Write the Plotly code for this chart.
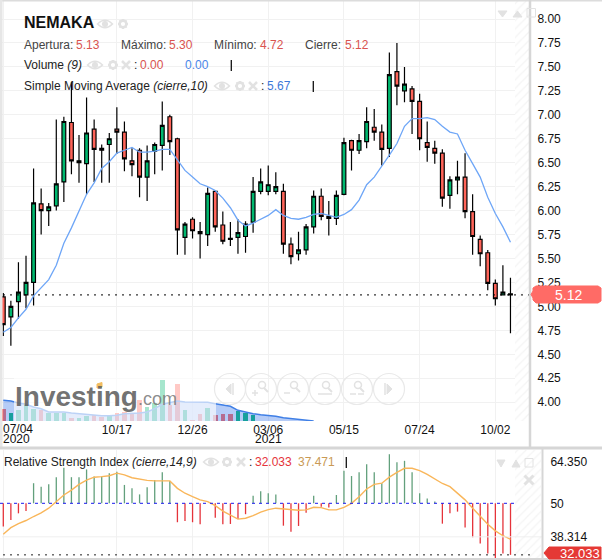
import plotly.graph_objects as go

W, H = 602, 560
# ---- data ----
tick_index = [0, 15, 25, 35, 45, 55, 65]
tick_text = ["", "10/17", "12/26", "03/06", "05/15", "07/24", "10/02"]
opens = [5.10,4.89,5.05,5.12,5.25,6.07,6.00,6.05,6.30,6.92,6.50,6.49,6.85,6.65,6.69,6.85,6.82,6.52,6.63,6.35,6.62,6.68,6.98,6.75,
         5.72,5.91,5.78,5.75,6.20,5.85,5.71,5.72,5.73,5.88,6.20,6.20,6.20,6.20,5.65,5.55,5.59,5.83,6.15,5.94,5.92,6.17,6.73,6.63,
         6.72,6.87,6.82,6.65,7.45,7.25,7.27,7.14,6.71,6.65,6.60,6.16,6.32,6.35,5.99,5.70,5.56,5.24,5.12,5.13]
highs = [5.14,5.06,5.46,5.53,6.44,6.23,6.08,6.95,6.98,7.34,6.79,7.18,6.95,6.69,6.81,7.08,6.93,6.65,6.65,6.68,6.71,7.14,7.00,6.76,
         5.88,5.93,5.88,6.24,6.21,5.99,5.88,5.91,5.89,6.35,6.44,6.47,6.40,6.28,5.72,5.78,5.86,6.21,6.23,6.10,6.21,6.76,6.74,6.80,
         7.08,7.06,6.90,7.65,7.75,7.50,7.30,7.22,6.93,6.73,6.64,6.36,6.52,6.60,6.17,5.74,5.59,5.28,5.43,5.30]
lows = [4.69,4.59,4.87,4.98,5.01,5.75,5.84,6.00,6.09,6.38,6.29,6.17,6.30,6.29,6.29,6.59,6.41,6.36,6.14,6.10,6.38,6.42,6.58,5.54,
        5.54,5.71,5.50,5.63,5.78,5.65,5.63,5.55,5.56,5.77,6.17,6.16,6.17,5.55,5.44,5.48,5.54,5.76,5.90,5.74,5.85,6.16,6.42,6.59,
        6.65,6.73,6.47,6.56,7.10,7.13,6.80,6.63,6.51,6.49,6.04,6.02,6.17,5.92,5.54,5.42,5.17,5.01,5.12,4.72]
closes = [4.81,5.00,5.15,5.25,6.08,6.00,6.04,6.28,6.93,6.52,6.52,6.81,6.64,6.63,6.75,6.82,6.54,6.48,6.35,6.52,6.69,6.89,6.72,5.80,
          5.86,5.79,5.76,6.18,5.83,5.68,5.70,5.77,5.86,6.20,6.30,6.27,6.25,5.65,5.52,5.59,5.83,6.15,5.94,5.92,6.16,6.71,6.63,6.73,
          6.93,6.82,6.64,7.42,7.30,7.32,7.14,6.75,6.66,6.60,6.13,6.32,6.35,5.99,5.73,5.55,5.24,5.08,5.15,5.12]
sma10 = [4.73,4.78,4.88,4.97,5.11,5.19,5.28,5.43,5.66,5.82,5.99,6.17,6.29,6.44,6.51,6.60,6.63,6.66,6.61,6.61,6.62,6.64,6.64,6.53,
         6.42,6.35,6.28,6.25,6.21,6.13,6.03,5.90,5.84,5.87,5.91,5.95,6.01,5.95,5.92,5.91,5.93,5.96,5.97,5.95,5.93,5.96,6.01,6.11,
         6.27,6.35,6.46,6.58,6.70,6.88,6.96,6.96,6.97,6.95,6.88,6.82,6.80,6.63,6.49,6.35,6.14,5.97,5.83,5.67]
volume = [11700,8300,10700,16300,11700,11300,8000,8000,8000,3000,3000,5000,5700,4000,4700,8000,9000,7300,21300,14000,18000,40700,
          15700,36700,10700,700,7300,13000,5700,7300,7300,10000,8000,6300]
volume_sma = [20700,20000,18000,16700,14000,12300,9000,9000,9000,8000,7300,6700,5700,5300,5300,5700,7300,7300,8000,9000,12300,16700,
              18000,20000,19000,19000,19000,18700,17300,16300,14700,10700,8700,7300,6300,5700,4700,3300,2300,1300,700,0]
rsi = [41.9,44.2,46.5,47.3,57.0,55.8,56.6,59.1,62.4,59.1,59.1,61.8,59.3,59.3,60.5,61.0,56.4,55.2,53.1,55.6,58.1,60.8,57.8,43.4,
       43.8,43.4,42.7,50.0,45.0,42.7,42.8,44.5,46.2,52.6,54.2,53.5,53.1,42.2,40.1,42.1,46.7,52.6,48.8,48.5,52.9,61.3,59.5,60.8,
       63.6,60.8,57.0,67.1,64.3,64.8,60.8,53.5,51.7,50.6,42.9,46.5,47.1,41.6,38.2,36.0,32.5,30.8,32.5,32.033]
rsi_sma = [39.2,41.5,42.9,44.0,45.4,46.7,48.3,50.6,52.9,54.6,56.6,58.1,59.1,59.3,59.6,60.5,59.9,58.9,58.4,58.0,57.8,57.8,57.8,55.2,
           53.5,52.3,51.2,50.6,49.2,47.3,45.9,44.5,44.8,45.7,46.9,47.8,48.3,48.0,47.9,47.6,47.7,48.6,48.5,47.7,47.7,48.6,50.0,52.3,
           55.0,56.6,57.0,59.1,60.8,62.2,62.2,61.4,60.1,58.5,56.9,55.8,53.5,51.2,48.3,45.4,42.7,40.4,38.7,37.471]
price_ticks = [4.00,4.25,4.50,4.75,5.00,5.25,5.50,5.75,6.00,6.25,6.50,6.75,7.00,7.25,7.50,7.75,8.00]
rsi_ticks = [64.35, 50, 38.314]
rsi_labels = ["64.350", "50", "38.314"]
last_price = 5.12
last_rsi = 32.033

idx = list(range(len(closes)))
GREEN, RED = "#00b86f", "#ff6459"
FONT = "Liberation Sans"
GREY = "#e2e2e2"

def X(p): return p / W
def Y(p): return 1 - p / H

fig = go.Figure()

# hatch band (main + RSI)
for xa, ya, base, top, cx, wd in [("x", "y", 3.804, 8.188, 68.6, 2.0), ("x2", "y2", 30.94, 68.57, 69.3, 3.4)]:
    fig.add_trace(go.Bar(x=[cx], y=[top-base], base=[base], width=[wd], xaxis=xa, yaxis=ya, showlegend=False,
                         marker=dict(color="white", line_width=0,
                                     pattern=dict(shape="/", fgcolor="#e9e9e9", bgcolor="white", size=6, solidity=0.2))))

fig.add_trace(go.Candlestick(x=idx, open=opens, high=highs, low=lows, close=closes, xaxis="x", yaxis="y",
                             increasing=dict(fillcolor=GREEN, line=dict(color="black", width=1.2)),
                             decreasing=dict(fillcolor=RED, line=dict(color="black", width=1.2)),
                             whiskerwidth=0, showlegend=False))
fig.add_trace(go.Scatter(x=idx, y=sma10, mode="lines", line=dict(color="#6ea6f7", width=1.3), showlegend=False))

# volume overlay
fig.add_trace(go.Bar(x=idx[:len(volume)], y=volume, width=0.6, xaxis="x", yaxis="y3", showlegend=False,
                     marker=dict(color=[GREEN if closes[i] >= opens[i] else RED for i in range(len(volume))], line_width=0)))
fig.add_trace(go.Scatter(x=idx[:len(volume_sma)], y=volume_sma, xaxis="x", yaxis="y3", mode="lines", fill="tozeroy",
                         fillcolor="rgba(60,120,235,0.38)", line=dict(color="#3f7fe6", width=1.5), showlegend=False))

# RSI panel: thin stems from the 50 level
def stems(select):
    xs, ys = [], []
    for i, v in zip(idx, rsi):
        if select(v):
            xs += [i, i, None]
            ys += [50, v, None]
    return xs, ys
for sel, col in [(lambda v: v >= 50, "#62a07c"), (lambda v: v < 50, "#e5333a")]:
    sx, sy = stems(sel)
    fig.add_trace(go.Scatter(x=sx, y=sy, xaxis="x2", yaxis="y2", mode="lines", line=dict(color=col, width=1.3), showlegend=False))
fig.add_trace(go.Scatter(x=idx, y=rsi_sma, xaxis="x2", yaxis="y2", mode="lines",
                         line=dict(color="#f9b65a", width=1.4), showlegend=False))

shapes, ann = [], []

def line(x0, y0, x1, y1, c=GREY, w=1, dash=None):
    shapes.append(dict(type="line", xref="paper", yref="paper", x0=X(x0), y0=Y(y0), x1=X(x1), y1=Y(y1),
                       line=dict(color=c, width=w, dash=dash) if dash else dict(color=c, width=w)))
def circle(cx, cy, r, c=GREY, w=1, fill=None):
    shapes.append(dict(type="circle", xref="paper", yref="paper", x0=X(cx-r), x1=X(cx+r), y0=Y(cy-r), y1=Y(cy+r),
                       line=dict(color=c, width=w), fillcolor=fill or "rgba(0,0,0,0)"))
def poly(pts, fill=GREY, c=None):
    d = "M" + " L".join(f"{X(a):.5f},{Y(b):.5f}" for a, b in pts) + " Z"
    shapes.append(dict(type="path", xref="paper", yref="paper", path=d, fillcolor=fill, line=dict(color=c or fill, width=1)))
def text(x, y, t, size=12, color="#333", anchor="left", **kw):
    xx = x - 2 if anchor == "left" else x
    ann.append(dict(xref="paper", yref="paper", x=X(xx), y=Y(y), text=t, showarrow=False, xanchor=anchor, yanchor="middle",
                    font=dict(family=kw.pop("family", FONT), size=size, color=color), align=kw.pop("align", "left"), **kw))
def eye(cx, cy):
    shapes.append(dict(type="path", xref="paper", yref="paper", line=dict(color=GREY, width=1.5), fillcolor="rgba(0,0,0,0)",
                       path=f"M{X(cx-7.5)},{Y(cy)} Q{X(cx)},{Y(cy-7.5)} {X(cx+7.5)},{Y(cy)} Q{X(cx)},{Y(cy+7.5)} {X(cx-7.5)},{Y(cy)} Z"))
    circle(cx, cy, 2.6, GREY, 1, GREY)
def gear(cx, cy):
    circle(cx, cy, 3.4, GREY, 2.6, "white")
    for a, b, c, d in [(-5, 0, 5, 0), (0, -5, 0, 5), (-3.6, -3.6, 3.6, 3.6), (-3.6, 3.6, 3.6, -3.6)]:
        line(cx+a, cy+b, cx+a*0.75, cy+b*0.75, GREY, 2)
        line(cx+c, cy+d, cx+c*0.75, cy+d*0.75, GREY, 2)
def cross(cx, cy, r=4, w=2.5):
    line(cx-r, cy-r, cx+r, cy+r, GREY, w)
    line(cx-r, cy+r, cx+r, cy-r, GREY, w)

# veil behind the watermark
shapes.append(dict(type="rect", xref="paper", yref="paper", x0=X(14), x1=X(216), y0=Y(370), y1=Y(421),
                   fillcolor="rgba(255,255,255,0.65)", line_width=0))

# current value lines
shapes.append(dict(type="line", xref="paper", x0=X(3), x1=X(530), yref="y", y0=last_price, y1=last_price,
                   line=dict(color="black", width=1, dash="2px,5px")))
shapes.append(dict(type="line", xref="paper", x0=X(3), x1=X(530), yref="y2", y0=last_rsi, y1=last_rsi,
                   line=dict(color="#222", width=1, dash="2px,5px")))
shapes.append(dict(type="line", xref="paper", x0=X(0), x1=X(518), yref="y2", y0=50, y1=50,
                   line=dict(color="#1a1aee", width=1, dash="3px,4px")))
shapes.append(dict(type="line", xref="paper", x0=X(2), x1=X(542), yref="y2", y0=rsi_ticks[2], y1=rsi_ticks[2],
                   line=dict(color="#efefef", width=1)))

# frame
line(0, 0.5, 602, 0.5, "#dcdcdc", 2)
line(1, 0, 1, 448, "#e6e6e6", 3)
line(530, 0, 530, 448, "#d6d6d6", 2.5)
line(0, 448, 602, 448, "#d6d6d6", 3)
line(0, 559, 602, 559, "#d6d6d6", 2)
line(542.5, 449, 542.5, 560, "#d6d6d6", 2)

# legend rows
text(24, 23, "<b>NEMAKA</b>", 16, "#111")
eye(105, 24); gear(123, 24)
for x, lab in [(24, "Apertura:"), (121, "Máximo:"), (214, "Mínimo:"), (305, "Cierre:")]:
    text(x, 45, lab, 12, "#444")
for x, v in [(76, "5.13"), (169, "5.30"), (260, "4.72"), (345, "5.12")]:
    text(x, 45, v, 12, "#d9534f")
text(24, 65, "Volume <i>(9)</i>", 12, "#222")
eye(95, 65); gear(113, 65); cross(126, 65)
text(134, 65, ":", 12, "#222")
text(140, 65, "0.00", 12, "#d9534f")
text(185, 65, "0.00", 12, "#4a86e8")
line(231.3, 60, 231.3, 71, "#111", 1.3)
text(24, 86, "Simple Moving Average <i>(cierre,10)</i>", 12, "#222")
eye(222, 86); gear(240, 86); cross(253, 86)
text(261, 86, ":", 12, "#222")
text(267, 86, "5.67", 12, "#3d78d8")
line(313.3, 81, 313.3, 92, "#111", 1.3)

# RSI legend
text(4, 462, "Relative Strength Index <i>(cierre,14,9)</i>", 12, "#222")
eye(211, 462); gear(227, 462); cross(241, 462)
text(249, 462, ":", 12, "#222")
text(255, 462, "32.033", 12, "#e5333a")
text(298, 462, "37.471", 12, "#c99a55")
line(346.3, 457, 346.3, 468, "#111", 1.3)

# chart tools
poly([(498, 11), (507, 11), (502.5, 17)]); poly([(513, 17), (522, 17), (517.5, 11)])
shapes.append(dict(type="rect", xref="paper", yref="paper", x0=X(527), x1=X(535.5), y0=Y(8.5), y1=Y(17),
                   line=dict(color=GREY, width=1)))
poly([(497, 460), (505, 460), (501, 467)]); poly([(512, 467), (520, 467), (516, 460)])
shapes.append(dict(type="rect", xref="paper", yref="paper", x0=X(525), x1=X(533), y0=Y(458.5), y1=Y(467),
                   line=dict(color=GREY, width=1)))
cross(529, 480, 4.5, 3)

# navigation buttons
for i, cx in enumerate([230, 261, 293, 325, 357, 389]):
    circle(cx, 389, 15.5, "#e9e9e9", 1.2)
    if i == 0:
        poly([(231, 384), (231, 394), (226, 389)]); line(233, 383, 233, 395, GREY, 1.5)
    elif i == 5:
        poly([(387, 384), (387, 394), (392, 389)]); line(385, 383, 385, 395, GREY, 1.5)
    else:
        circle(cx+1, 385, 3.5, GREY, 1.5)
        line(cx+3, 388, cx+7, 392, GREY, 2)
        if i == 1:
            line(cx-9, 393, cx-3, 393, GREY, 1.5); line(cx-6, 390, cx-6, 396, GREY, 1.5)
        elif i == 2:
            line(cx-9, 393, cx-3, 393, GREY, 1.5)
        elif i == 3:
            line(cx-7, 394, cx+7, 394, GREY, 1.5)
        else:
            line(cx-7, 394, cx-1, 394, GREY, 1.5); line(cx+1, 394, cx+7, 394, GREY, 1.5)

# watermark
text(15, 396, "<b>Investing</b>", 28, "rgba(95,95,95,0.88)")
text(138, 399, ".com", 18, "rgba(120,120,120,0.85)")
poly([(97, 384), (102, 382.5), (102, 387), (97, 388)], "#f2bd60")

# date labels that sit off the regular tick row
text(3, 429, "07/04", 12, "#111")
text(3, 439, "2020", 12, "#111")
text(268.5, 439, "2021", 12, "#111", anchor="center")

# current value tags
poly([(536, 286), (598, 286), (601, 288), (601, 301), (598, 303), (536, 303), (533, 300), (533, 298), (531, 294.5), (533, 291), (533, 288)], "#ff6b66")
text(568, 294.8, f"{last_price:.2f}", 14, "white", anchor="center")
poly([(549, 547), (601, 547), (601, 559), (549, 559), (544, 553)], "#e53935")
text(580, 553, f"{last_rsi:.3f}", 13, "white", anchor="center")

x_kw = dict(showline=False, zeroline=False, showgrid=True, gridcolor="#f1f1f1", gridwidth=1, ticklen=0,
            tickvals=tick_index, fixedrange=True, rangeslider=dict(visible=False))
fig.update_layout(
    width=W, height=H, margin=dict(l=0, r=0, t=0, b=0), paper_bgcolor="white", plot_bgcolor="white",
    font=dict(family=FONT, size=12, color="#111"), barmode="overlay", boxgap=0.5, boxgroupgap=0, bargap=0, showlegend=False,
    xaxis=dict(domain=[0, X(530)], range=[-0.436, 69.58], anchor="y", ticktext=tick_text, **x_kw),
    xaxis2=dict(domain=[0, X(542)], range=[-0.436, 71.16], anchor="y2", showticklabels=False, **x_kw),
    yaxis=dict(domain=[Y(421), Y(1)], range=[3.804, 8.188], side="right", anchor="x", tickvals=price_ticks,
               tickformat=".2f", showgrid=True, gridcolor="#f1f1f1", gridwidth=1, zeroline=False, ticks="outside",
               ticklen=4, tickcolor="rgba(0,0,0,0)", fixedrange=True),
    yaxis2=dict(domain=[Y(558), Y(450)], range=[30.94, 68.57], side="right", anchor="x2", tickvals=rsi_ticks,
                ticktext=rsi_labels, showgrid=False, zeroline=False, ticks="outside", ticklen=5,
                tickcolor="rgba(0,0,0,0)", fixedrange=True),
    yaxis3=dict(domain=[Y(421), Y(1)], range=[0, 420000], overlaying="y", side="left", visible=False, fixedrange=True),
    shapes=shapes, annotations=ann,
)
fig.write_html("out.html", config={"displayModeBar": False},
               post_script="document.body.style.margin='0';document.body.style.overflow='hidden';")
